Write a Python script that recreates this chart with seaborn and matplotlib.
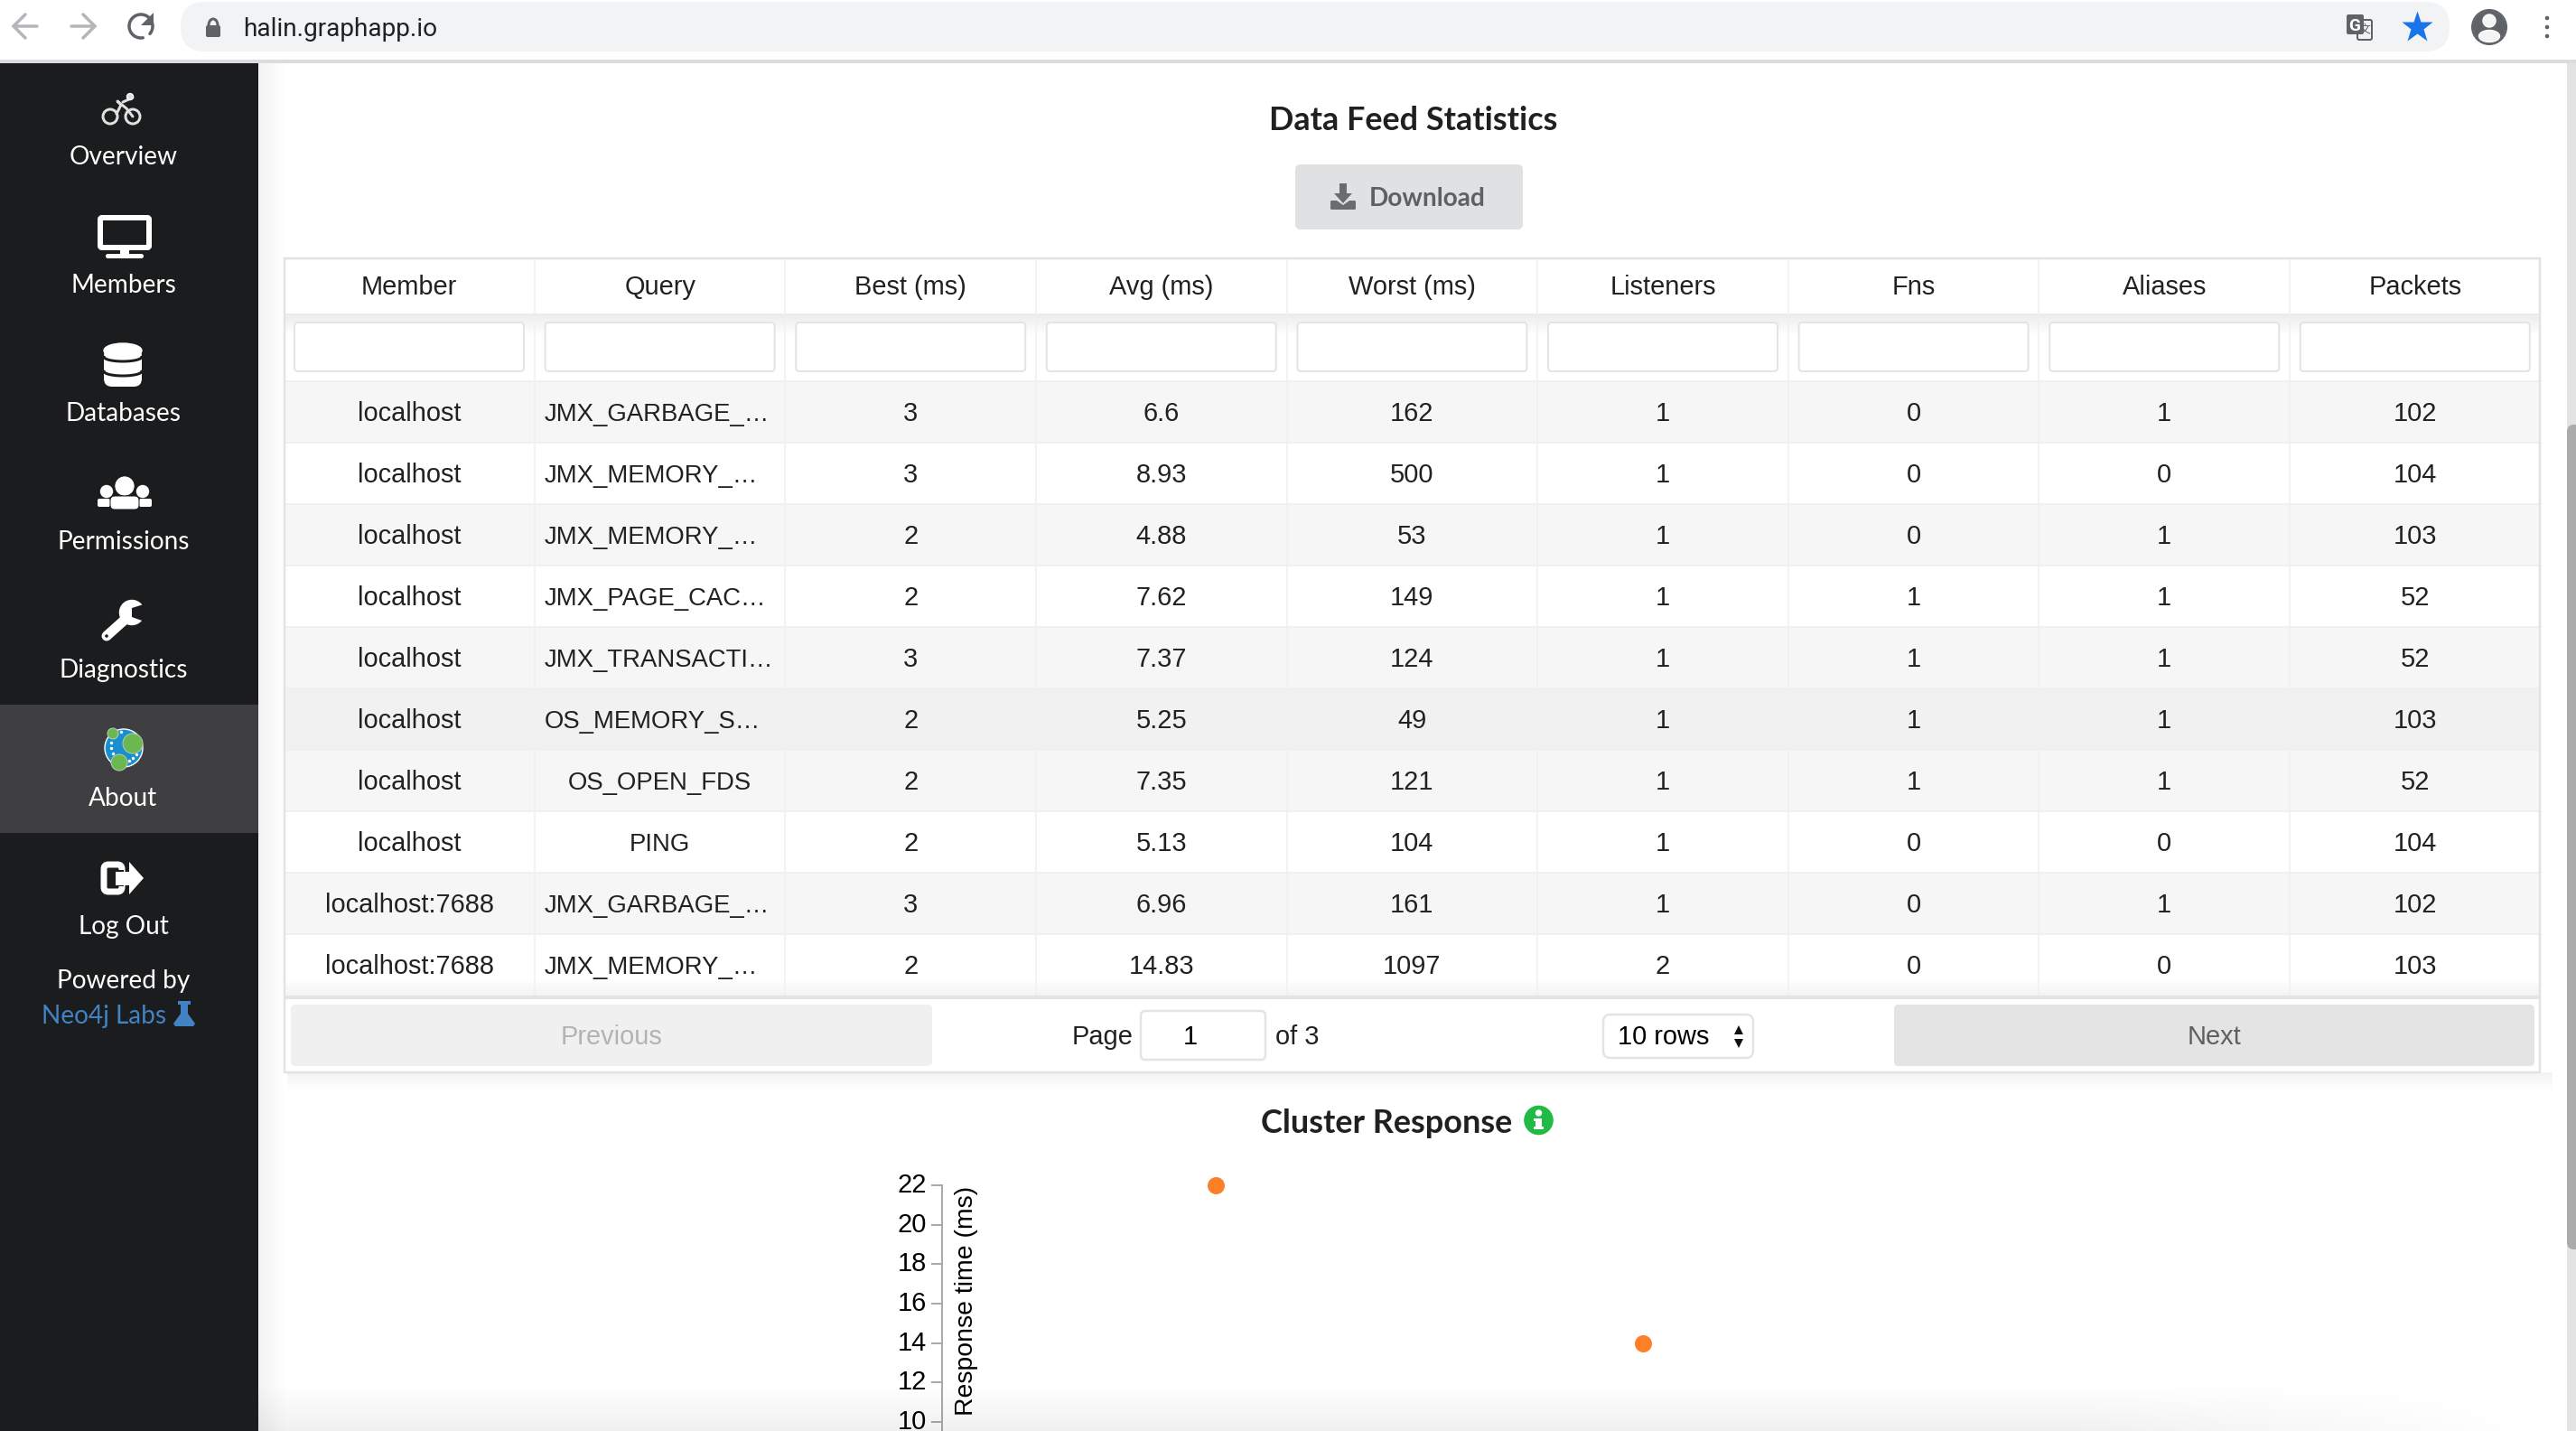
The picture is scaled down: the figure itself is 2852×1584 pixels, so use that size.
import numpy as np
import pandas as pd
import matplotlib
matplotlib.use("Agg")
import matplotlib.pyplot as plt
from matplotlib.patches import FancyBboxPatch, Rectangle, Circle, Polygon, Ellipse
from matplotlib.colors import to_rgb
from matplotlib.transforms import ScaledTranslation
import seaborn as sns

# ---- data ----
columns = ["Member", "Query", "Best (ms)", "Avg (ms)", "Worst (ms)", "Listeners", "Fns", "Aliases", "Packets"]
members = ["localhost"] * 8 + ["localhost:7688"] * 2
queries = ["JMX_GARBAGE_…", "JMX_MEMORY_…", "JMX_MEMORY_…", "JMX_PAGE_CAC…", "JMX_TRANSACTI…",
           "OS_MEMORY_S…", "OS_OPEN_FDS", "PING", "JMX_GARBAGE_…", "JMX_MEMORY_…"]
best = ["3", "3", "2", "2", "3", "2", "2", "2", "3", "2"]
avg = ["6.6", "8.93", "4.88", "7.62", "7.37", "5.25", "7.35", "5.13", "6.96", "14.83"]
worst = ["162", "500", "53", "149", "124", "49", "121", "104", "161", "1097"]
listeners = ["1", "1", "1", "1", "1", "1", "1", "1", "1", "2"]
fns = ["0", "0", "0", "1", "1", "1", "1", "0", "0", "0"]
aliases = ["1", "0", "1", "1", "1", "1", "1", "0", "1", "0"]
packets = ["102", "104", "103", "52", "52", "103", "52", "104", "102", "103"]
nav_labels = ["Overview", "Members", "Databases", "Permissions", "Diagnostics", "About", "Log Out"]
sample = [1, 2]
response_ms = [22, 14]
y_ticks = [10, 12, 14, 16, 18, 20, 22]

W, H = 2852, 1584
sns.set_theme(style="white")
plt.rcParams["font.family"] = ["Liberation Sans", "DejaVu Sans"]
fig = plt.figure(figsize=(W / 100, H / 100), dpi=100, facecolor="white")


def pixel_axes(z):
    a = fig.add_axes([0, 0, 1, 1], zorder=z)
    a.set_xlim(0, W)
    a.set_ylim(H, 0)
    a.axis("off")
    a.patch.set_alpha(0)
    return a


ax = pixel_axes(0)


def pt(px):
    return px * 0.72


def T(x, yc, s, size=29, color="#212121", ha="center", font="Liberation Sans", weight="normal", a=None, **kw):
    (a or ax).text(x, yc + 0.36 * size, s, fontsize=pt(size), color=color, ha=ha, va="baseline",
                   family=[font, "DejaVu Sans"], fontweight=weight, **kw)


def R(x0, y0, x1, y1, c, z=1, a=None):
    (a or ax).add_patch(Rectangle((x0, y0), x1 - x0, y1 - y0, fc=c, ec="none", zorder=z))


def RR(x0, y0, x1, y1, r, fc, ec="none", lw=0, z=1):
    ax.add_patch(FancyBboxPatch((x0, y0), x1 - x0, y1 - y0, boxstyle=f"round,pad=0,rounding_size={r}",
                                fc=fc, ec=ec, lw=pt(lw), zorder=z))


def grad(a, x0, x1, y0, y1, color, a0, a1, vertical=True, z=2, fade_from=None):
    n = 64
    ramp = np.linspace(a0, a1, n)
    if vertical:
        alpha = ramp.reshape(n, 1)
    else:
        alpha = ramp.reshape(1, n)
    if fade_from is not None:
        # also fade out horizontally towards the right end
        xs_ = np.linspace(x0, x1, 256)
        hf = np.clip((x1 - xs_) / (x1 - fade_from), 0, 1).reshape(1, 256)
        alpha = alpha * hf
    img = np.zeros(alpha.shape + (4,))
    img[..., :3] = to_rgb(color)
    img[..., 3] = alpha
    a.imshow(img, extent=(x0, x1, y1, y0), origin="upper", aspect="auto", zorder=z, interpolation="bilinear")
    a.set_xlim(0, W)
    a.set_ylim(H, 0)


# ---- browser chrome ----
R(0, 66, W, 70, "#dcdce0")
RR(200, 2, 2712, 57, 27, "#f1f3f4")
for x0, x1, d, c in [(15, 41, -1, "#b4b6b9"), (79, 105, 1, "#b4b6b9")]:
    tip = x0 if d < 0 else x1
    ax.plot([x0, x1], [29, 29], color=c, lw=pt(3.5), solid_capstyle="round")
    ax.plot([tip - d * 13, tip, tip - d * 13], [16, 29, 42], color=c, lw=pt(3.5), solid_capstyle="round")
th = np.radians(np.linspace(-40, 280, 60))
ax.plot(156 + 13 * np.cos(th), 29 + 13 * np.sin(th) * -1, color="#5f6368", lw=pt(3.5))
ax.add_patch(Polygon([[170, 14], [170, 28], [156, 28]], fc="#5f6368", ec="none"))
RR(228, 28, 244, 41, 2, "#5f6368")
th = np.radians(np.linspace(0, 180, 30))
ax.plot(236 + 5 * np.cos(th), 28 - 7 * np.sin(th), color="#5f6368", lw=pt(3))
T(269, 29.5, "halin.graphapp.io", size=28, ha="left", font="Roboto", color="#202124")
RR(2610, 22, 2626, 44, 2, "#f1f3f4", ec="#5f6368", lw=2)
RR(2598, 16, 2617, 38, 2, "#5f6368")
T(2607, 27, "G", size=19, color="white", font="Roboto", weight="bold")
T(2618, 33, "文", size=13, color="#5f6368", font="Noto Sans CJK SC")
ax.plot([2676], [30], marker="*", ms=pt(36), color="#1a73e8", mec="none")
ax.add_patch(Circle((2756, 30), 19, fc="#5f6368"))
ax.add_patch(Circle((2756, 23), 7, fc="#f4f4f4"))
ax.add_patch(Ellipse((2756, 40), 23, 13, fc="#f4f4f4"))
ax.add_patch(Circle((2756, 30), 19, fc="none", ec="#5f6368", lw=pt(2)))
for yy in (20, 30, 40):
    ax.add_patch(Circle((2820, yy), 3, fc="#5f6368"))

# ---- scrollbar ----
R(2842, 70, W, H, "#e3e3e3")
RR(2842, 470, 2860, 1383, 8, "#ababab")

# ---- sidebar ----
grad(ax, 286, 318, 70, H, "#000000", 0.05, 0.0, vertical=False, z=1)
R(0, 70, 286, H, "#1b1c1d", z=2)
R(0, 780, 286, 922, "#3f3f41", z=2)
nav_y = [172, 314, 456, 598, 740, 882, 1024]
for lab, yy in zip(nav_labels, nav_y):
    T(136.5, yy, lab, size=28, color="white", font="Lato", a=ax, zorder=5)
T(136.5, 1084, "Powered by", size=28, color="white", font="Lato", zorder=5)
T(46, 1123, "Neo4j Labs", size=28, color="#4183c4", font="Lato", ha="left", zorder=5)
ax.add_patch(Polygon([[200, 1112], [200, 1122], [192, 1133], [194, 1136], [214, 1136], [216, 1133], [208, 1122], [208, 1112]],
                     fc="#4183c4", ec="none", zorder=5))
R(197, 1108, 211, 1112, "#4183c4", z=5)
# bike
for cx in (122, 147):
    ax.add_patch(Circle((cx, 129), 8, fc="none", ec="#e0e0e0", lw=pt(3), zorder=5))
ax.plot([129, 134, 130, 140, 147], [126, 116, 112, 120, 129], color="#e0e0e0", lw=pt(3), zorder=5)
ax.plot([136, 147], [113, 108], color="#e0e0e0", lw=pt(3), zorder=5)
ax.add_patch(Circle((144, 107), 3.5, fc="#e0e0e0", zorder=5))
# monitor
RR(111, 241, 165, 274, 2, "none", ec="white", lw=6, z=5)
R(133, 277, 143, 282, "white", z=5)
RR(117, 281, 159, 286, 2.5, "white", z=5)
# database
RR(115, 385, 157, 428, 9, "white", z=5)
ax.add_patch(Ellipse((136, 388), 42, 16, fc="white", zorder=5))
xs = np.linspace(115, 157, 30)
for yy in (395, 411):
    ax.plot(xs, yy + 5 * (1 - ((xs - 136) / 21) ** 2) ** 0.5, color="#1b1c1d", lw=pt(3), zorder=6)
# users
for cx, r in [(118, 6.5), (158, 6.5)]:
    ax.add_patch(Circle((cx, 544), r, fc="white", zorder=5))
ax.add_patch(Circle((138, 538), 10, fc="white", zorder=5))
RR(108, 552, 122, 561, 2, "white", z=5)
RR(154, 552, 168, 561, 2, "white", z=5)
ax.add_patch(Circle((138, 538), 11.5, fc="none", ec="#1b1c1d", lw=pt(1), zorder=5))
RR(122, 549, 154, 564, 5, "white", ec="#1b1c1d", lw=1, z=6)
# wrench
ax.plot([147, 118], [678, 704], color="white", lw=pt(11), solid_capstyle="round", zorder=5)
ax.add_patch(Circle((146, 678), 13.5, fc="white", zorder=5))
ax.add_patch(Polygon([[146, 673], [146, 683], [160, 688], [162, 668]], fc="#1b1c1d", ec="none", zorder=6))
ax.add_patch(Circle((118, 704), 2.5, fc="#1b1c1d", zorder=6))
# neo4j logo
ax.add_patch(Circle((137, 828), 21, fc="#1a8fd0", zorder=5))
th = np.radians(np.linspace(-75, 230, 16))
ax.scatter(138 + 15 * np.cos(th) * -1, 826 + 17 * np.sin(th), s=6, color="white", zorder=6, lw=0)
for cx, cy, r in [(125, 812, 6), (147, 823, 11), (132, 844, 9)]:
    ax.add_patch(Circle((cx, cy), r, fc="#6ab84f", ec="#b9c9ad", lw=pt(1), zorder=7))
# log out
RR(115, 957, 135, 987, 5, "none", ec="white", lw=7, z=5)
R(128, 963, 137, 981, "#1b1c1d", z=6)
ax.add_patch(Polygon([[128, 965], [143, 965], [143, 954], [159, 972], [143, 990], [143, 980], [128, 980]],
                     fc="white", ec="none", zorder=7))

# ---- titles ----
T(1565, 131, "Data Feed Statistics", size=36, font="Lato", weight="bold", color="#202020")
RR(1434, 182, 1686, 254, 6, "#e0e1e2")
T(1580, 218, "Download", size=28, font="Lato", weight="bold", color="#5f6061")
R(1483, 203, 1491, 215, "#6b6c6d", z=3)
ax.add_patch(Polygon([[1477, 214], [1497, 214], [1487, 225]], fc="#6b6c6d", ec="none", zorder=3))
RR(1473, 222, 1501, 232, 1.5, "#6b6c6d", z=2)
ax.add_patch(Polygon([[1480, 222], [1494, 222], [1487, 227]], fc="#e0e1e2", ec="none", zorder=2.5))
T(1535.5, 1241, "Cluster Response", size=36, font="Lato", weight="bold", color="#202020")
ax.add_patch(Circle((1703.5, 1240), 17, fc="#21ba45"))
ax.add_patch(Circle((1703.5, 1232), 3, fc="white", zorder=3))
R(1700, 1238, 1707, 1249, "white", z=3)
R(1698, 1247, 1709, 1250, "white", z=3)
R(1698, 1238, 1702, 1241, "white", z=3)

# ---- table ----
n_cols = len(columns)
cx0, cstep = 453.0, 277.6
centers = [cx0 + cstep * i for i in range(n_cols)]
t_left, t_right, t_top = 315.5, 2812.5, 285.5
rows_top, row_h = 422.0, 68.0
rows_bottom = rows_top + row_h * len(members)
grad(ax, 318, 2826, 1187, 1208, "#000000", 0.05, 0.0, z=0.5)
R(t_left, t_top, t_right, 1187, "white", z=0.8)
for r in range(len(members)):
    y0 = rows_top + r * row_h
    col = "#f1f1f1" if r == 5 else ("#f6f6f6" if r % 2 == 0 else "white")
    R(t_left, y0, t_right, y0 + row_h, col, z=1)
    ax.plot([t_left, t_right], [y0, y0], color="#f0f0f0", lw=pt(2), zorder=1.2)
grad(ax, t_left, t_right, 347, 372, "#000000", 0.08, 0.0, z=1.1)
grad(ax, t_left, t_right, 1082, 1102, "#000000", 0.0, 0.05, z=1.1)
for i in range(n_cols - 1):
    xs_ = centers[i] + cstep / 2
    ax.plot([xs_, xs_], [t_top, rows_bottom], color="#f0f0f0", lw=pt(1.5), zorder=1.2)
R(t_left, 1102, t_right, 1106, "#e4e4e4", z=1.3)
ax.add_patch(Rectangle((t_left - 0.5, t_top), t_right - t_left, 1187 - t_top, fc="none", ec="#e3e3e3", lw=pt(2.5), zorder=1.4))
for c, lab in zip(centers, columns):
    T(c, 316, lab, size=29, zorder=3)
    RR(c - 127, 357, c + 127, 411, 4, "white", ec="#e4e4e4", lw=2, z=2)
table_cols = [members, queries, best, avg, worst, listeners, fns, aliases, packets]
for j, colvals in enumerate(table_cols):
    for r, val in enumerate(colvals):
        yc = rows_top + row_h * r + row_h / 2
        if j == 1 and val.endswith("…"):
            T(603, yc, val, size=27.5, ha="left", zorder=3)
        elif j == 1:
            T(centers[j], yc, val, size=27.5, zorder=3)
        else:
            T(centers[j], yc, val, size=29, zorder=3)

# ---- pagination ----
RR(322, 1112, 1032, 1180, 5, "#f0f0f0", z=2)
T(677, 1146, "Previous", color="#b3b3b3", zorder=3)
T(1187, 1146, "Page", ha="left", zorder=3)
RR(1263, 1119, 1401, 1173, 5, "white", ec="#e4e4e4", lw=2.5, z=2)
T(1318, 1146, "1", zorder=3, color="#000000")
T(1412, 1146, "of 3", ha="left", zorder=3)
RR(1775, 1123, 1941, 1171, 8, "white", ec="#e4e4e4", lw=2.5, z=2)
T(1791, 1146, "10 rows", ha="left", color="#000000", zorder=3)
ax.add_patch(Polygon([[1920, 1145], [1930, 1145], [1925, 1135]], fc="#111", ec="none", zorder=3))
ax.add_patch(Polygon([[1920, 1150], [1930, 1150], [1925, 1160]], fc="#111", ec="none", zorder=3))
RR(2097, 1112, 2806, 1180, 5, "#e4e4e4", z=2)
T(2451, 1146, "Next", color="#5f5f5f", zorder=3)

# ---- chart ----
left, right, top, bottom = 1043, 2300, 1312, 1584
chart = fig.add_axes([left / W, 1 - bottom / H, (right - left) / W, (bottom - top) / H], zorder=1)
chart.patch.set_alpha(0)
df = pd.DataFrame({"sample": sample, "response_ms": response_ms})
sns.scatterplot(data=df, x="sample", y="response_ms", ax=chart, color="#fd7f28", s=187, linewidth=0,
                clip_on=False, legend=False)
px_per_ms = (1574 - 1312) / 12
px_per_sample = 473
chart.set_ylim(22 - (bottom - top) / px_per_ms, 22)
chart.set_xlim(1 - (1346 - left) / px_per_sample, 1 + (right - 1346) / px_per_sample)
chart.set_yticks(y_ticks)
chart.set_yticklabels([str(v) for v in y_ticks], fontsize=pt(29), color="#000000", family="Liberation Sans",
                      va="center_baseline")
chart.set_xticks([])
chart.set_xlabel("")
chart.tick_params(axis="y", length=pt(12), width=pt(2), color="#aaaaaa", pad=pt(5), left=True)
lift = ScaledTranslation(0, 3 / 100, fig.dpi_scale_trans)
for lab in chart.get_yticklabels():
    lab.set_transform(lab.get_transform() + lift)
for s in ("top", "right", "bottom"):
    chart.spines[s].set_visible(False)
chart.spines["left"].set_color("#aaaaaa")
chart.spines["left"].set_linewidth(pt(2))
chart.set_ylabel("Response time (ms)", fontsize=pt(28.4), color="#000000", family="Liberation Sans", va="center")
chart.yaxis.set_label_coords((1070 - left) / (right - left), (bottom - 1439.5) / (bottom - top))

# ---- bottom fade over everything ----
over = pixel_axes(3)
grad(over, 286, 2842, 1530, H, "#000000", 0.0, 0.06, fade_from=2300)

fig.savefig("out.png", dpi=100, facecolor="white")
